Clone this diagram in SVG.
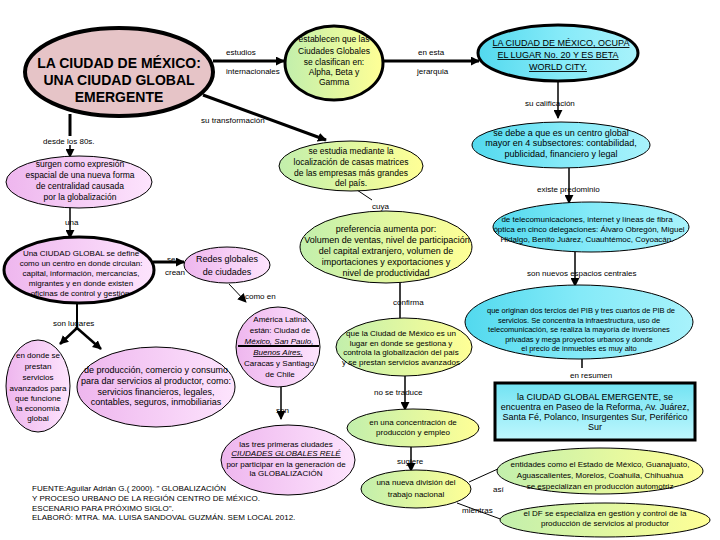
<svg xmlns="http://www.w3.org/2000/svg" width="720" height="540" viewBox="0 0 720 540">
<style>
text{font-family:"Liberation Sans",Arial,sans-serif;fill:#000}
.n{font-size:9px;text-anchor:middle}
.m{font-size:8.5px;text-anchor:middle}
.s{font-size:8px;text-anchor:middle}
.xs{font-size:7.5px;text-anchor:middle}
.lb{font-size:8px}
.u{text-decoration:underline}
.ui{text-decoration:underline;font-style:italic}
.thin{stroke:#000;stroke-width:1}
.thick{stroke:#000;stroke-width:3}
.c{fill:none;stroke:#000;stroke-width:1.5}
.ct{fill:none;stroke:#000;stroke-width:3}
.cn{fill:none;stroke:#000;stroke-width:1}
</style>
<defs>
<marker id="ah" viewBox="0 0 10 10" refX="9" refY="5" markerWidth="9" markerHeight="9" orient="auto" markerUnits="userSpaceOnUse"><path d="M0,0 L10,5 L0,10 z" fill="#000"/></marker>
<linearGradient id="gy" x1="0" y1="0" x2="1" y2="0"><stop offset="0" stop-color="#c2efac"/><stop offset="1" stop-color="#ffff96"/></linearGradient>
<linearGradient id="cy" x1="0" y1="0" x2="1" y2="0"><stop offset="0" stop-color="#52d9ee"/><stop offset="0.5" stop-color="#84eaf8"/><stop offset="1" stop-color="#a8f2fb"/></linearGradient>
<linearGradient id="cyv" x1="0" y1="0" x2="0" y2="1"><stop offset="0" stop-color="#72e3f3"/><stop offset="1" stop-color="#bff7fd"/></linearGradient>
<linearGradient id="pk" x1="0" y1="0" x2="1" y2="0"><stop offset="0" stop-color="#eeb6ee"/><stop offset="1" stop-color="#fde4fd"/></linearGradient>
</defs>
<rect width="720" height="540" fill="#fff"/>

<g id="connectors">
<path class="ct" d="M213,61 L284,61" marker-end="url(#ah)"/>
<path class="ct" d="M383,61 L479,61" marker-end="url(#ah)"/>
<path class="c" d="M558,81 L558,118" marker-end="url(#ah)"/>
<path class="c" d="M569,168 L569,203" marker-end="url(#ah)"/>
<path class="c" d="M575,252 L575,286" marker-end="url(#ah)"/>
<path class="c" d="M582,359 L582,368"/>
<path class="ct" d="M203,95 L326,140" marker-end="url(#ah)"/>
<path class="ct" d="M70,114 L70,136"/>
<path class="c" d="M70,145 L70,157" marker-end="url(#ah)"/>
<path class="c" d="M70,207 L70,238" marker-end="url(#ah)"/>
<path class="ct" d="M153,262 L184,262" marker-end="url(#ah)"/>
<path class="cn" d="M229,284 L246,302" marker-end="url(#ah)"/>
<path class="c" d="M281,387 L281,419" marker-end="url(#ah)"/>
<path class="cn" d="M357,190 L372,200"/>
<path class="c" d="M400,283 L400,318"/>
<path class="c" d="M405,376 L405,410" marker-end="url(#ah)"/>
<path class="c" d="M411,447 L411,471" marker-end="url(#ah)"/>
<path class="cn" d="M469,482 L500,468"/>
<path class="cn" d="M457,503 L503,520"/>
<path fill="none" stroke="#000" stroke-width="2" d="M77,303 L77,328"/>
<path fill="none" stroke="#000" stroke-width="2.5" d="M77,328 L60,344" marker-end="url(#ah)"/>
<path fill="none" stroke="#000" stroke-width="2.5" d="M77,328 L101,349" marker-end="url(#ah)"/>
<text class="lb" x="226" y="55">estudios</text>
<text class="lb" x="226" y="74">internacionales</text>
<text class="lb" x="418" y="55">en esta</text>
<text class="lb" x="417" y="74">jerarquia</text>
<text class="lb" x="525" y="106">su calificación</text>
<text class="lb" x="201" y="123">su transformación</text>
<text class="lb" x="43" y="144">desde los 80s.</text>
<text class="lb" x="537" y="192">existe predominio</text>
<text class="lb" x="372" y="209">cuya</text>
<text class="lb" x="65" y="225">una</text>
<text class="lb" x="527" y="276">son nuevos espacios centrales</text>
<text class="lb" x="167" y="262">se</text>
<text class="lb" x="165" y="275">crean</text>
<text class="lb" x="245" y="299">como en</text>
<text class="lb" x="393" y="305">confirma</text>
<text class="lb" x="53" y="326">son lugares</text>
<text class="lb" x="570" y="378">en resumen</text>
<text class="lb" x="374" y="395">no se traduce</text>
<text class="lb" x="276" y="413">son</text>
<text class="lb" x="397" y="464">sugiere</text>
<text class="lb" x="493" y="492">así</text>
<text class="lb" x="462" y="513">mientras</text>
</g>

<g id="main">
<ellipse cx="119" cy="72" rx="94" ry="44" fill="#e6c4c7" stroke="#000" stroke-width="4"/>
<text x="119" y="68" style="font-size:14px;font-weight:bold;text-anchor:middle">LA CIUDAD DE MÉXICO:</text>
<text x="119" y="85" style="font-size:14px;font-weight:bold;text-anchor:middle">UNA CIUDAD GLOBAL</text>
<text x="119" y="102" style="font-size:14px;font-weight:bold;text-anchor:middle">EMERGENTE</text>
</g>

<g id="clasificacion">
<ellipse cx="334" cy="63" rx="49" ry="37" fill="url(#gy)" class="thick"/>
<text class="m" x="334" y="42">establecen que las</text>
<text class="m" x="334" y="54">Ciudades Globales</text>
<text class="m" x="334" y="65">se clasifican en:</text>
<text class="m" x="334" y="75">Alpha, Beta y</text>
<text class="m" x="334" y="85">Gamma</text>
</g>

<g id="lugar20">
<ellipse cx="558" cy="53" rx="80" ry="28" fill="url(#cy)" class="thick"/>
<text class="n u" x="561" y="46">LA CIUDAD DE MÉXICO, OCUPA</text>
<text class="n u" x="558" y="58">EL LUGAR No. 20 Y ES BETA</text>
<text class="n u" x="558" y="70">WORLD CITY.</text>
</g>

<g id="centroglobal">
<ellipse cx="561" cy="145" rx="89" ry="23" fill="url(#cy)" class="thin"/>
<text class="n" x="561" y="136">se debe a que es un centro global</text>
<text class="n" x="561" y="146">mayor en 4 subsectores: contabilidad,</text>
<text class="n" x="561" y="157">publicidad, financiero y legal</text>
</g>

<g id="telecom">
<ellipse cx="591" cy="227" rx="98" ry="25" fill="url(#cy)" class="thin"/>
<text class="s" x="587" y="222">de telecomunicaciones, internet y líneas de fibra</text>
<text class="s" x="589" y="232">óptica en cinco delegaciones: Álvaro Obregón, Miguel</text>
<text class="s" x="587" y="242">Hidalgo, Benito Juárez, Cuauhtémoc, Coyoacán.</text>
</g>

<g id="pib">
<ellipse cx="579" cy="322" rx="114" ry="37" fill="url(#cy)" class="thin"/>
<text class="xs" x="581" y="313">que originan dos tercios del PIB y tres cuartos de PIB de</text>
<text class="xs" x="579" y="323">servicios. Se concentra la infraestructura, uso de</text>
<text class="xs" x="579" y="332">telecomunicación, se realiza la mayoría de inversiones</text>
<text class="xs" x="579" y="342">privadas y mega proyectos urbanos y donde</text>
<text class="xs" x="579" y="351">el precio de inmuebles es muy alto</text>
</g>

<g id="resumen">
<rect x="495" y="383" width="200" height="57" fill="url(#cyv)" class="thick"/>
<text class="n" x="595" y="400">la CIUDAD GLOBAL EMERGENTE, se</text>
<text class="n" x="595" y="410">encuentra en Paseo de la Reforma, Av. Juárez,</text>
<text class="n" x="595" y="420">Santa Fé, Polanco, Insurgentes Sur, Periférico</text>
<text class="n" x="595" y="430">Sur</text>
</g>

<g id="surgen">
<ellipse cx="79" cy="182" rx="73" ry="26" fill="url(#pk)" class="thin"/>
<text class="m" x="80" y="167">surgen como expresión</text>
<text class="m" x="80" y="178">espacial de una nueva forma</text>
<text class="m" x="80" y="189">de centralidad causada</text>
<text class="m" x="80" y="200">por la globalización</text>
</g>

<g id="ciudadglobal">
<ellipse cx="79" cy="270" rx="75" ry="33" fill="url(#pk)" class="thick"/>
<text class="s" x="81" y="256">Una CIUDAD GLOBAL se define</text>
<text class="s" x="81" y="266">como un centro en donde circulan:</text>
<text class="s" x="81" y="276">capital, información, mercancías,</text>
<text class="s" x="81" y="286">migrantes y en donde existen</text>
<text class="s" x="80" y="296">oficinas de control y gestión</text>
</g>

<g id="redes">
<ellipse cx="227" cy="265" rx="43" ry="18" fill="url(#pk)" class="thin"/>
<text class="n" x="227" y="262">Redes globales</text>
<text class="n" x="227" y="275">de ciudades</text>
</g>

<g id="america">
<ellipse cx="278" cy="347" rx="42" ry="40" fill="url(#pk)" class="thin"/>
<text class="s" x="280" y="322">América Latina</text>
<text class="s" x="280" y="333">están: Ciudad de</text>
<text class="s ui" x="279" y="344">México, San Paulo,</text>
<line x1="238" y1="346" x2="319" y2="346" stroke="#000" stroke-width="2"/>
<text class="s ui" x="278" y="355">Buenos Aires,</text>
<text class="s" x="279" y="366">Caracas y Santiago</text>
<text class="s" x="280" y="377">de Chile</text>
</g>

<g id="rele">
<ellipse cx="288" cy="460" rx="67" ry="35" fill="url(#pk)" class="thin"/>
<text class="s" x="286" y="447">las tres primeras ciudades</text>
<text class="s ui" x="286" y="456">CIUDADES GLOBALES RELÉ</text>
<text class="s" x="286" y="467">por participar en la generación de</text>
<text class="s" x="286" y="476">la GLOBALIZACIÓN</text>
</g>

<g id="servicios">
<ellipse cx="38" cy="386" rx="32" ry="46" fill="url(#pk)" class="thin"/>
<text class="s" x="38" y="358">en donde se</text>
<text class="s" x="38" y="369">prestan</text>
<text class="s" x="38" y="380">servicios</text>
<text class="s" x="38" y="391">avanzados para</text>
<text class="s" x="38" y="401">que funcione</text>
<text class="s" x="38" y="411">la economía</text>
<text class="s" x="38" y="421">global</text>
</g>

<g id="produccion">
<ellipse cx="156" cy="387" rx="79" ry="40" fill="url(#pk)" class="thin"/>
<text class="n" x="156" y="373">de producción, comercio y consumo</text>
<text class="n" x="156" y="384">para dar servicios al productor, como:</text>
<text class="n" x="156" y="395">servicios financieros, legales,</text>
<text class="n" x="156" y="405">contables, seguros, inmobiliarias</text>
</g>

<g id="estudia">
<ellipse cx="351" cy="166" rx="72" ry="25" fill="url(#gy)" class="thin"/>
<text class="m" x="351" y="154">se estudia mediante la</text>
<text class="m" x="351" y="165">localización de casas matrices</text>
<text class="m" x="351" y="176">de las empresas más grandes</text>
<text class="m" x="351" y="186">del país.</text>
</g>

<g id="preferencia">
<ellipse cx="386" cy="247" rx="86" ry="36" fill="url(#gy)" class="thin"/>
<text class="n" x="386" y="232">preferencia aumenta por:</text>
<text class="n" x="387" y="243">Volumen de ventas, nivel de participación</text>
<text class="n" x="386" y="254">del capital extranjero, volumen de</text>
<text class="n" x="386" y="265">importaciones y exportaciones y</text>
<text class="n" x="386" y="276">nivel de productividad</text>
</g>

<g id="gestiona">
<ellipse cx="404" cy="347" rx="68" ry="29" fill="url(#gy)" class="thin"/>
<text class="s" x="401" y="336">que la Ciudad de México es un</text>
<text class="s" x="401" y="346">lugar en donde se gestiona y</text>
<text class="s" x="401" y="355">controla la globalización del país</text>
<text class="s" x="401" y="365">y se prestan servicios avanzados</text>
</g>

<g id="concentracion">
<ellipse cx="413" cy="428" rx="66" ry="19" fill="url(#gy)" class="thin"/>
<text class="s" x="413" y="425">en una concentración de</text>
<text class="s" x="413" y="435">producción y empleo</text>
</g>

<g id="division">
<ellipse cx="416" cy="489" rx="55" ry="19" fill="url(#gy)" class="thin"/>
<text class="s" x="416" y="485">una nueva división del</text>
<text class="s" x="416" y="497">trabajo nacional</text>
</g>

<g id="entidades">
<ellipse cx="600" cy="471" rx="103" ry="23" fill="url(#gy)" class="thin"/>
<text class="s" x="600" y="467">entidades como el Estado de México, Guanajuato,</text>
<text class="s" x="600" y="478">Aguascalientes, Morelos, Coahuila, Chihuahua</text>
<text class="s" x="600" y="489">se especializan en producción automotriz</text>
</g>

<g id="df">
<ellipse cx="605" cy="520" rx="105" ry="17" fill="url(#gy)" class="thin"/>
<text class="s" x="605" y="516">el DF se especializa en gestión y control de la</text>
<text class="s" x="605" y="526">producción de servicios al productor</text>
</g>

<g id="fuente">
<text class="lb" x="32" y="491">FUENTE:Aguilar Adrián G.( 2000). " GLOBALIZACIÓN</text>
<text class="lb" x="32" y="501">Y PROCESO URBANO DE LA REGIÓN CENTRO DE MÉXICO.</text>
<text class="lb" x="32" y="511">ESCENARIO PARA PRÓXIMO SIGLO".</text>
<text class="lb" x="32" y="520">ELABORÓ: MTRA. MA. LUISA SANDOVAL GUZMÁN. SEM LOCAL 2012.</text>
</g>
</svg>
